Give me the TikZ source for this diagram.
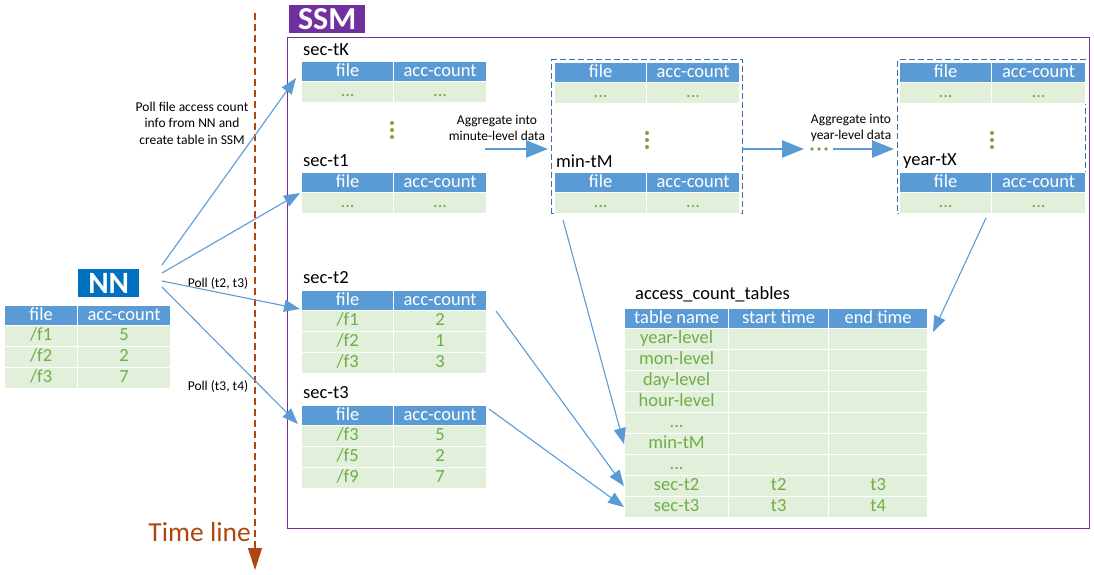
\documentclass[tikz,border=0pt]{standalone}
\usepackage{fontspec}
\setmainfont{Carlito}
\usetikzlibrary{arrows.meta}
\definecolor{hdblue}{HTML}{5B9BD5}
\definecolor{rowgreen}{HTML}{E2EFDA}
\definecolor{txtgreen}{HTML}{70AD47}
\definecolor{arrblue}{HTML}{5B9BD5}
\definecolor{ssmpurple}{HTML}{7030A0}
\definecolor{nnblue}{HTML}{0070C0}
\definecolor{dashcol}{HTML}{41719C}
\definecolor{timecol}{HTML}{B0460F}
\definecolor{dotcol}{HTML}{7FA042}
\newcommand\fsz[1]{\fontsize{#1}{#1}\selectfont}
\newcommand\dd{...}
\newcommand\fl{/}
\tikzset{
  hd/.style={draw=white, line width=1.2pt, fill=hdblue, text=white, minimum height=20pt,
             inner sep=0pt, anchor=north west, font=\fsz{18.5}, text height=12.5pt, text depth=3.5pt},
  bd/.style={hd, fill=rowgreen, text=txtgreen, minimum height=21pt},
  lbl/.style={anchor=west, inner sep=0pt, font=\fsz{18.5}},
  small/.style={align=center, inner sep=0pt, font=\fontsize{13.5}{16.5}\selectfont},
  thin/.style={draw=arrblue, line width=1.1pt, -{Triangle[length=16pt,width=12pt]}},
  thick/.style={draw=arrblue, line width=2.6pt, -{Triangle[length=22pt,width=17pt]}},
  dashbox/.style={draw=dashcol, line width=1.1pt, dash pattern=on 6pt off 3pt,
                  anchor=north west, inner sep=0pt},
  vdot/.style={fill=dotcol},
}
\newcommand\twotab[6]{%
  \node[hd, minimum width={#3-#2}] (#1-h1) at (#2,#5) {file};
  \node[hd, minimum width={#4-#3}] (#1-h2) at (#3,#5) {acc-count};
  \foreach \a/\b [count=\i] in {#6} {
    \node[bd, minimum width={#3-#2}] (#1-\i-a) at (#2,{#5+20+(\i-1)*21}) {\a};
    \node[bd, minimum width={#4-#3}] (#1-\i-b) at (#3,{#5+20+(\i-1)*21}) {\b};
  }%
}
\begin{document}
\begin{tikzpicture}[x=1pt, y=-1pt]
\useasboundingbox (0,0) rectangle (1094,575);

% time line
\coordinate (tl0) at (255,13);
\coordinate (tl1) at (255,570);
\draw[timecol, line width=1.2pt, dash pattern=on 7pt off 4pt,
      -{Triangle[length=22pt,width=14pt]}] (tl0) -- (tl1);
\node[anchor=east, inner sep=0pt, text=timecol, font=\fsz{27.5}] (tltext) at (251,532) {Time line};

% SSM frame and label
\node[draw=ssmpurple, line width=1.3pt, minimum width=802, minimum height=491,
      anchor=north west, inner sep=0pt] (frame) at (287,37) {};
\node[fill=ssmpurple, text=white, minimum width=76, minimum height=28, anchor=north west,
      inner sep=0pt, font=\bfseries\fsz{32}] (ssm) at (289,5) {SSM};

% NN
\node[fill=nnblue, text=white, minimum width=61, minimum height=28, anchor=north west,
      inner sep=0pt, font=\bfseries\fsz{31}] (nn) at (78,269) {NN};
\twotab{nnt}{4}{77}{170}{305}{\fl f1/5, \fl f2/2, \fl f3/7}

% second-level tables
\node[lbl] (tKl) at (303,50) {sec-tK};
\twotab{tK}{301}{393}{486}{61}{\dd/\dd}
\node[lbl] (t1l) at (303,161) {sec-t1};
\twotab{t1}{301}{393}{486}{172}{\dd/\dd}
\node[lbl] (t2l) at (303,278) {sec-t2};
\twotab{t2}{301}{393}{486}{290}{\fl f1/2, \fl f2/1, \fl f3/3}
\node[lbl] (t3l) at (303,393) {sec-t3};
\twotab{t3}{301}{393}{486}{405}{\fl f3/5, \fl f5/2, \fl f9/7}
\fill[vdot] (392,123) circle (2);
\fill[vdot] (392,130) circle (2);
\fill[vdot] (392,137) circle (2);

% min-tM
\node[dashbox, minimum width=191, minimum height=154] (minbox) at (551,59) {};
\twotab{mA}{554}{646}{739}{62}{\dd/\dd}
\node[lbl] (mlbl) at (556,161) {min-tM};
\twotab{mB}{554}{646}{739}{172}{\dd/\dd}
\fill[vdot] (647,133) circle (2);
\fill[vdot] (647,140) circle (2);
\fill[vdot] (647,147) circle (2);

% year-tX
\node[dashbox, minimum width=188, minimum height=154] (yearbox) at (897,59) {};
\twotab{yA}{899}{991}{1085}{62}{\dd/\dd}
\node[lbl] (ylbl) at (903,161) {year-tX};
\twotab{yB}{899}{991}{1085}{172}{\dd/\dd}
\fill[vdot] (992,133) circle (2);
\fill[vdot] (992,140) circle (2);
\fill[vdot] (992,147) circle (2);

% aggregate arrows
\node[small] (aggm) at (497,128) {Aggregate into\\minute-level data};
\node[small] (aggy) at (851,128) {Aggregate into\\year-level data};
\coordinate (a1s) at (485,149);
\coordinate (a1e) at (548,149);
\coordinate (a2s) at (742,149);
\coordinate (a2e) at (804,149);
\coordinate (a3s) at (833,149);
\coordinate (a3e) at (894,149);
\draw[thick] (a1s) -- (a1e);
\draw[thick] (a2s) -- (a2e);
\draw[thick] (a3s) -- (a3e);
\fill[vdot] (812,149) circle (1.8);
\fill[vdot] (819,149) circle (1.8);
\fill[vdot] (826,149) circle (1.8);

% access_count_tables
\node[lbl] (acclbl) at (635,294) {access\_count\_tables};
\node[hd, minimum width=104] (acc-h-a) at (624,308) {table name};
\node[hd, minimum width=100] (acc-h-b) at (728,308) {start time};
\node[hd, minimum width=99] (acc-h-c) at (828,308) {end time};
\foreach \a/\b/\c [count=\i] in {year-level/{}/{}, mon-level/{}/{}, day-level/{}/{},
    hour-level/{}/{}, \dd/{}/{}, min-tM/{}/{}, \dd/{}/{}, sec-t2/t2/t3, sec-t3/t3/t4} {
  \node[bd, minimum width=104] (acc-\i-a) at (624,{328+(\i-1)*21}) {\a};
  \node[bd, minimum width=100] (acc-\i-b) at (728,{328+(\i-1)*21}) {\b};
  \node[bd, minimum width=99] (acc-\i-c) at (828,{328+(\i-1)*21}) {\c};
}

% poll labels
\node[small] (pollall) at (192,123) {Poll file access count\\info from NN and\\create table in SSM};
\node[small] (poll23) at (218,283) {Poll (t2, t3)};
\node[small] (poll34) at (218,386) {Poll (t3, t4)};

% poll arrows
\coordinate (nn1) at (162,265);
\coordinate (nn2) at (162,273);
\coordinate (nn3) at (162,281);
\coordinate (nn4) at (162,287);
\coordinate (pK) at (296,78);
\coordinate (p1) at (300,193);
\coordinate (p2) at (300,309);
\coordinate (p3) at (298,424);
\draw[thin] (nn1) -- (pK);
\draw[thin] (nn2) -- (p1);
\draw[thin] (nn3) -- (p2);
\draw[thin] (nn4) -- (p3);

% registration arrows
\coordinate (ms) at (563,220);
\coordinate (s2s) at (496,311);
\coordinate (s3s) at (489,409);
\coordinate (ys) at (986,218);
\coordinate (ye) at (933,332);
\draw[thin] (ms) -- (acc-6-a.west);
\draw[thin] (s2s) -- (acc-8-a.west);
\draw[thin] (s3s) -- (acc-9-a.west);
\draw[thin] (ys) -- (ye);
\end{tikzpicture}
\end{document}
